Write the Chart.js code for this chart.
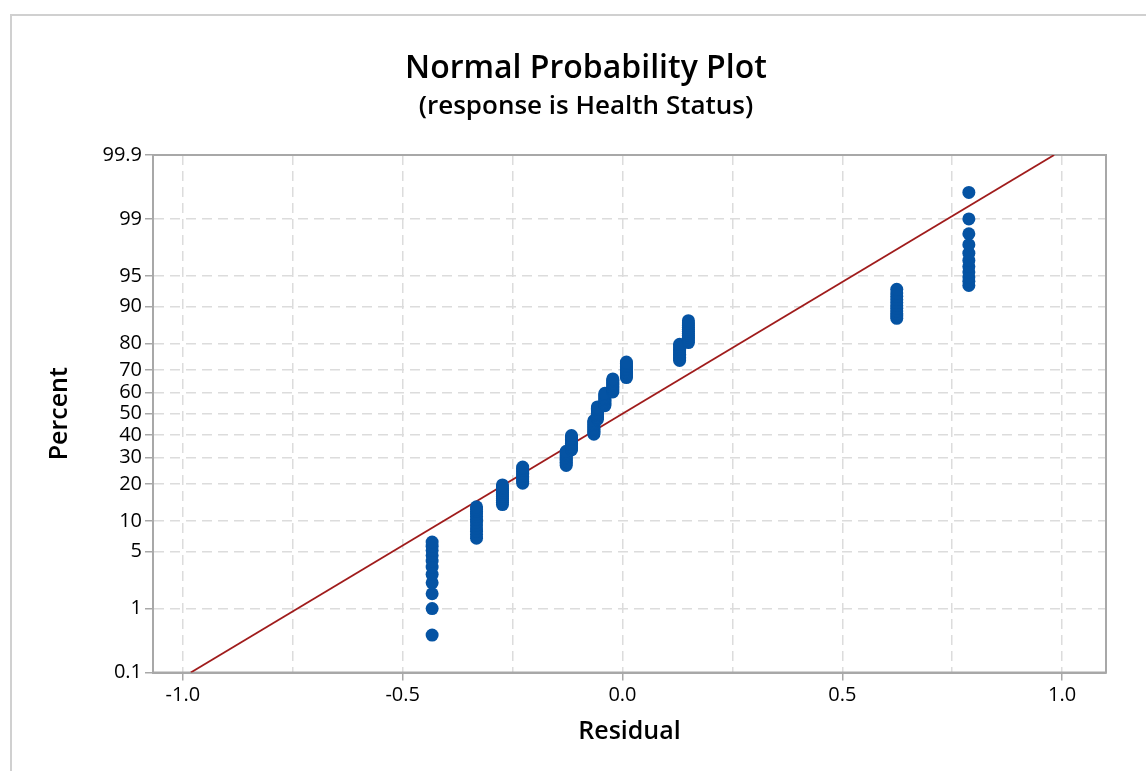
<!DOCTYPE html>
<html>
<head>
<meta charset="utf-8">
<script src="https://cdn.jsdelivr.net/npm/chart.js@4/dist/chart.umd.min.js"></script>
<style>
html,body{margin:0;padding:0;background:#fff;overflow:hidden;}
#wrap{position:relative;width:1146px;height:771px;}
#frame{position:absolute;left:10px;top:14px;width:1200px;height:900px;border-left:2px solid #d0d0d0;border-top:2px solid #d0d0d0;}
#c{position:absolute;left:0;top:0;}
</style>
</head>
<body>
<div id="wrap"><div id="frame"></div><canvas id="c" width="1146" height="771"></canvas></div>
<script>
// ---------- data ----------
const residualA = -0.433; const pctA = [0.41, 1.00, 1.58, 2.17, 2.76, 3.35, 3.93, 4.52, 5.11, 5.69, 6.28];
const residualB = -0.332; const pctB = [6.87, 7.45, 8.04, 8.63, 9.21, 9.80, 10.39, 10.97, 11.56, 12.15, 12.73, 13.32];
const residualC = -0.273; const pctC = [13.91, 14.50, 15.08, 15.67, 16.26, 16.84, 17.43, 18.02, 18.60, 19.19, 19.78];
const residualD = -0.227; const pctD = [20.36, 20.95, 21.54, 22.12, 22.71, 23.30, 23.89, 24.47, 25.06, 25.65, 26.23];
const residualE = -0.128; const pctE = [26.82, 27.41, 27.99, 28.58, 29.17, 29.75, 30.34, 30.93, 31.51, 32.10, 32.69];
const residualF = -0.116; const pctF = [33.27, 33.86, 34.45, 35.04, 35.62, 36.21, 36.80, 37.38, 37.97, 38.56, 39.14, 39.73];
const residualG = -0.065; const pctG = [40.32, 40.90, 41.49, 42.08, 42.66, 43.25, 43.84, 44.43, 45.01, 45.60, 46.19, 46.77];
const residualH = -0.057; const pctH = [47.36, 47.95, 48.53, 49.12, 49.71, 50.29, 50.88, 51.47, 52.05, 52.64, 53.23];
const residualI = -0.040; const pctI = [53.81, 54.40, 54.99, 55.57, 56.16, 56.75, 57.34, 57.92, 58.51, 59.10, 59.68];
const residualJ = -0.022; const pctJ = [60.27, 60.86, 61.44, 62.03, 62.62, 63.20, 63.79, 64.38, 64.96, 65.55, 66.14];
const residualK = 0.009;  const pctK = [66.73, 67.31, 67.90, 68.49, 69.07, 69.66, 70.25, 70.83, 71.42, 72.01, 72.59, 73.18];
const residualL = 0.130;  const pctL = [73.77, 74.35, 74.94, 75.53, 76.11, 76.70, 77.29, 77.88, 78.46, 79.05, 79.64];
const residualM = 0.150;  const pctM = [80.22, 80.81, 81.40, 81.98, 82.57, 83.16, 83.74, 84.33, 84.92, 85.50, 86.09, 86.68];
const residualN = 0.624;  const pctN = [87.27, 87.85, 88.44, 89.03, 89.61, 90.20, 90.79, 91.37, 91.96, 92.55, 93.13];
const residualO = 0.788;  const pctO = [93.72, 94.31, 94.89, 95.48, 96.07, 96.65, 97.24, 97.83, 98.42, 99.00, 99.59];

const fitLineResidual = [-0.982, 0.982];
const fitLinePercent  = [0.1, 99.9];

const percentTicks = [0.1, 1, 5, 10, 20, 30, 40, 50, 60, 70, 80, 90, 95, 99, 99.9];
const residualGrid = [-1.0, -0.75, -0.5, -0.25, 0.0, 0.25, 0.5, 0.75, 1.0];
const residualLabels = ['-1.0', '', '-0.5', '', '0.0', '', '0.5', '', '1.0'];

const titleText = 'Normal Probability Plot';
const subtitleText = '(response is Health Status)';
const xTitle = 'Residual';
const yTitle = 'Percent';

// ---------- probability (normal) scale ----------
function probit(p) {
  const a=[-3.969683028665376e+01,2.209460984245205e+02,-2.759285104469687e+02,1.383577518672690e+02,-3.066479806614716e+01,2.506628277459239e+00];
  const b=[-5.447609879822406e+01,1.615858368580409e+02,-1.556989798598866e+02,6.680131188771972e+01,-1.328068155288572e+01];
  const c=[-7.784894002430293e-03,-3.223964580411365e-01,-2.400758277161838e+00,-2.549732539343734e+00,4.374664141464968e+00,2.938163982698783e+00];
  const d=[7.784695709041462e-03,3.224671290700398e-01,2.445134137142996e+00,3.754408661907416e+00];
  const pl = 0.02425, ph = 1 - pl;
  let q, r;
  if (p < pl) { q = Math.sqrt(-2*Math.log(p)); return (((((c[0]*q+c[1])*q+c[2])*q+c[3])*q+c[4])*q+c[5])/((((d[0]*q+d[1])*q+d[2])*q+d[3])*q+1); }
  if (p <= ph) { q = p - 0.5; r = q*q; return (((((a[0]*r+a[1])*r+a[2])*r+a[3])*r+a[4])*r+a[5])*q/(((((b[0]*r+b[1])*r+b[2])*r+b[3])*r+b[4])*r+1); }
  q = Math.sqrt(-2*Math.log(1-p));
  return -(((((c[0]*q+c[1])*q+c[2])*q+c[3])*q+c[4])*q+c[5])/((((d[0]*q+d[1])*q+d[2])*q+d[3])*q+1);
}
function normCdf(z) {
  const t = 1/(1+0.2316419*Math.abs(z));
  const y = 0.3989422804014327*Math.exp(-z*z/2)*t*(0.319381530+t*(-0.356563782+t*(1.781477937+t*(-1.821255978+t*1.330274429))));
  return z > 0 ? 1 - y : y;
}

class ProbabilityScale extends Chart.LinearScale {
  determineDataLimits() {
    this.min = probit(this.options.min / 100);
    this.max = probit(this.options.max / 100);
  }
  buildTicks() {
    return percentTicks.map(v => ({value: v}));
  }
  getPixelForValue(value) {
    if (value === null || value === undefined || isNaN(value)) return NaN;
    return this.getPixelForDecimal((probit(value / 100) - this._startValue) / this._valueRange);
  }
  getValueForPixel(pixel) {
    const z = this._startValue + this.getDecimalForPixel(pixel) * this._valueRange;
    return normCdf(z) * 100;
  }
}
ProbabilityScale.id = 'probability';
ProbabilityScale.defaults = Chart.LinearScale.defaults;
Chart.register(ProbabilityScale);

// ---------- build the dataset table from the arrays ----------
const groups = [
  [residualA, pctA], [residualB, pctB], [residualC, pctC], [residualD, pctD], [residualE, pctE],
  [residualF, pctF], [residualG, pctG], [residualH, pctH], [residualI, pctI], [residualJ, pctJ],
  [residualK, pctK], [residualL, pctL], [residualM, pctM], [residualN, pctN], [residualO, pctO]
];
const points = [];
groups.forEach(([x, ps]) => ps.forEach(p => points.push({x: x, y: p})));
const linePoints = fitLineResidual.map((x, i) => ({x: x, y: fitLinePercent[i]}));

const FONT = '"Open Sans", "Noto Sans", sans-serif';
const AXIS_GRAY = '#a8a8a8';
const GRID_GRAY = '#dcdcdc';

const plotBox = {
  id: 'plotBox',
  beforeDatasetsDraw(chart) {
    const {ctx, chartArea: a} = chart;
    ctx.save();
    ctx.strokeStyle = AXIS_GRAY;
    ctx.lineWidth = 2;
    ctx.strokeRect(a.left, a.top, a.right - a.left, a.bottom - a.top);
    ctx.restore();
  }
};

new Chart(document.getElementById('c'), {
  type: 'scatter',
  data: {
    datasets: [
      {
        type: 'line',
        data: linePoints,
        borderColor: '#a01c1c',
        borderWidth: 1.8,
        pointRadius: 0,
        fill: false,
        tension: 0,
        order: 2
      },
      {
        data: points,
        backgroundColor: '#0553a3',
        borderWidth: 0,
        pointRadius: 6.5,
        pointHoverRadius: 6.5,
        order: 1
      }
    ]
  },
  options: {
    responsive: false,
    animation: false,
    devicePixelRatio: 1,
    layout: {padding: {left: 26, right: 0, top: 0, bottom: 0}},
    plugins: {
      legend: {display: false},
      tooltip: {enabled: false},
      title: {
        display: true, text: titleText, color: '#000',
        font: {family: FONT, size: 32, weight: '600', lineHeight: 1.2},
        padding: {top: 50, bottom: 0}
      },
      subtitle: {
        display: true, text: subtitleText, color: '#000',
        font: {family: FONT, size: 26, weight: '600', lineHeight: 1.2},
        padding: {top: 3, bottom: 32.4}
      }
    },
    scales: {
      x: {
        type: 'linear',
        min: -1.068, max: 1.100,
        afterBuildTicks: (scale) => { scale.ticks = residualGrid.map(v => ({value: v})); },
        afterFit: (scale) => { scale.height = 98.5; },
        ticks: {
          autoSkip: false, maxRotation: 0, padding: 3, color: '#000',
          font: {family: FONT, size: 20},
          callback: (v, i) => residualLabels[i]
        },
        grid: {
          color: GRID_GRAY, lineWidth: 1.5, drawTicks: true, tickLength: 8,
          tickColor: (ctx) => (ctx.index % 2 === 0 ? AXIS_GRAY : 'rgba(0,0,0,0)'),
          tickWidth: 1.5
        },
        border: {display: true, color: AXIS_GRAY, width: 2, dash: [10, 6]},
        title: {
          display: true, text: xTitle, color: '#000',
          font: {family: FONT, size: 25, weight: '600', lineHeight: 1.2},
          padding: {top: 0, bottom: 24}
        }
      },
      y: {
        type: 'probability',
        min: 0.1, max: 99.9,
        afterFit: (scale) => { scale.width = 127; },
        ticks: {
          autoSkip: false, padding: 3, color: '#000',
          font: {family: FONT, size: 20},
          callback: (v) => String(v)
        },
        grid: {
          color: GRID_GRAY, lineWidth: 1.5, drawTicks: true, tickLength: 8,
          tickColor: AXIS_GRAY, tickWidth: 1.5
        },
        border: {display: true, color: AXIS_GRAY, width: 2, dash: [10, 6]},
        title: {
          display: true, text: yTitle, color: '#000',
          font: {family: FONT, size: 25, weight: '600', lineHeight: 1.2},
          padding: {top: 19, bottom: 0}
        }
      },
      yRightSpacer: {
        type: 'linear',
        position: 'right',
        display: true,
        min: 0, max: 1,
        afterFit: (scale) => { scale.width = 40; },
        ticks: {display: false},
        grid: {display: false, drawOnChartArea: false, drawTicks: false},
        border: {display: false},
        title: {display: false}
      }
    }
  },
  plugins: [plotBox]
});
</script>
</body>
</html>
